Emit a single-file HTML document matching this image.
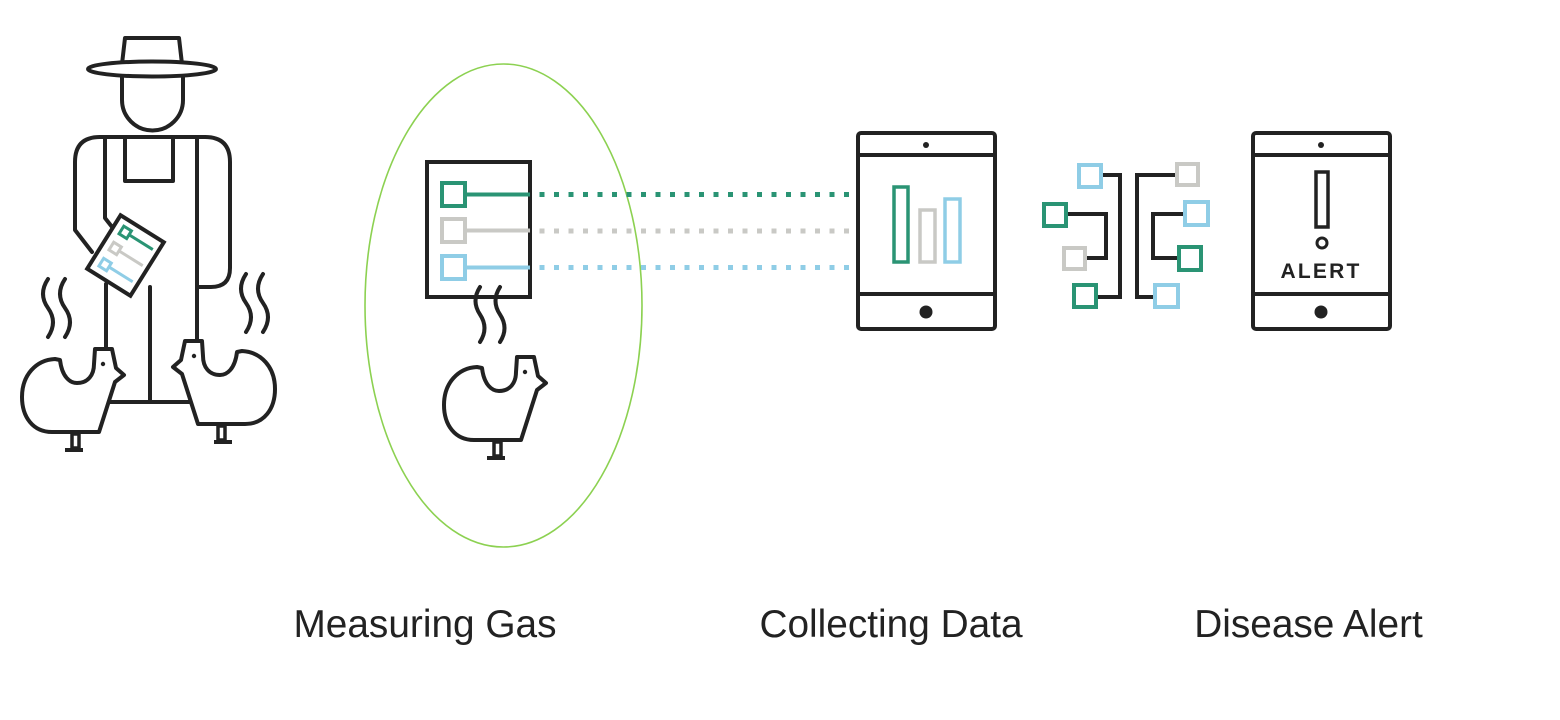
<!DOCTYPE html>
<html>
<head>
<meta charset="utf-8">
<style>
html,body{margin:0;padding:0;background:#fff;}
svg{display:block;}
</style>
</head>
<body>
<svg width="1560" height="720" viewBox="0 0 1560 720" xmlns="http://www.w3.org/2000/svg">
<rect width="1560" height="720" fill="#fff"/>
<defs>
  <g id="chick">
    <path d="M477 367 L482 368 C484 385 492 391 499 391 C510 391 516 383 516 372 L517 357 L534 357 L538 376 L546 383 L537 390 L521 440 L474 440 C455 440 444 425 444 405 C444 383 458 368 477 367 Z" fill="#fff" stroke="#222" stroke-width="4" stroke-linejoin="round"/>
    <circle cx="525" cy="372" r="2.2" fill="#222"/>
    <rect x="494" y="442" width="7" height="14" fill="#fff" stroke="#222" stroke-width="3.5"/>
    <line x1="487" y1="458" x2="505" y2="458" stroke="#222" stroke-width="4"/>
  </g>
</defs>

<!-- ===== Farmer ===== -->
<g fill="none" stroke="#222" stroke-width="4" stroke-linecap="round" stroke-linejoin="round">
  <!-- hat -->
  <path d="M122 64 L125 38 L179 38 L182 64" fill="#fff"/>
  <ellipse cx="152" cy="69" rx="64" ry="7.5" fill="#fff"/>
  <!-- face -->
  <path d="M122 77 L122 100 A30.5 30.5 0 0 0 183 100 L183 77"/>
  <!-- shoulders / arms -->
  <path d="M100 137 L205 137"/>
  <path d="M100 137 Q75 137 75 162 L75 230 L92 252"/>
  <path d="M205 137 Q230 137 230 162 L230 268 Q230 287 211 287 L197 287"/>
  <!-- bib -->
  <path d="M125 137 L125 181 L173 181 L173 137"/>
  <!-- left inner arm -->
  <path d="M105 137 L105 218 L116 232"/>
  <!-- legs -->
  <path d="M106 284 L106 402 L197 402 L197 137"/>
  <path d="M150 287 L150 402"/>
  <!-- smell waves left -->
  <path d="M48 279 q-10 15 0 29 t0 29"/>
  <path d="M65 279 q-10 15 0 29 t0 29"/>
  <!-- smell waves right -->
  <path d="M246 274 q-10 15 0 29 t0 29"/>
  <path d="M263 274 q-10 15 0 29 t0 29"/>
</g>
<!-- clipboard -->
<g transform="translate(125.5 255.5) rotate(32)">
  <rect x="-25.5" y="-31.5" width="51" height="63" fill="#fff" stroke="#222" stroke-width="4"/>
  <g stroke-width="3" fill="#fff">
    <rect x="-17" y="-24" width="9" height="9" stroke="#2a9474"/>
    <line x1="-8" y1="-19.5" x2="20" y2="-19.5" stroke="#2a9474"/>
    <rect x="-17" y="-5" width="9" height="9" stroke="#c9c9c5"/>
    <line x1="-8" y1="-0.5" x2="20" y2="-0.5" stroke="#c9c9c5"/>
    <rect x="-17" y="14" width="9" height="9" stroke="#8fcde6"/>
    <line x1="-8" y1="18.5" x2="20" y2="18.5" stroke="#8fcde6"/>
  </g>
</g>
<!-- farmer chickens -->
<use href="#chick" transform="translate(-422 -8)"/>
<use href="#chick" transform="translate(719 -16) scale(-1 1)"/>

<!-- ===== Measuring Gas ===== -->
<ellipse cx="503.5" cy="305.5" rx="138.5" ry="241.5" fill="none" stroke="#8cd151" stroke-width="1.6"/>
<rect x="427" y="162" width="103" height="135" fill="#fff" stroke="#222" stroke-width="4"/>
<g stroke-width="4" fill="#fff">
  <rect x="442" y="183" width="23" height="23" stroke="#2a9474"/>
  <line x1="465" y1="194.5" x2="530" y2="194.5" stroke="#2a9474"/>
  <rect x="442" y="219" width="23" height="23" stroke="#c9c9c5"/>
  <line x1="465" y1="230.5" x2="530" y2="230.5" stroke="#c9c9c5"/>
  <rect x="442" y="256" width="23" height="23" stroke="#8fcde6"/>
  <line x1="465" y1="267.5" x2="530" y2="267.5" stroke="#8fcde6"/>
</g>
<g fill="none" stroke="#222" stroke-width="4" stroke-linecap="round">
  <path d="M480 287 q-9 14 0 27.5 t0 27.5"/>
  <path d="M500 287 q-9 14 0 27.5 t0 27.5"/>
</g>
<use href="#chick"/>

<!-- dotted connectors -->
<g stroke-width="5" fill="none">
  <line x1="539.5" y1="194.5" x2="856" y2="194.5" stroke="#2a9474" stroke-dasharray="5 9.5"/>
  <line x1="539.5" y1="231" x2="856" y2="231" stroke="#c9c9c5" stroke-dasharray="5 9.5"/>
  <line x1="539.5" y1="267.5" x2="856" y2="267.5" stroke="#8fcde6" stroke-dasharray="5 9.5"/>
</g>

<!-- ===== Tablet 1 ===== -->
<g fill="none" stroke="#222" stroke-width="4">
  <rect x="858" y="133" width="137" height="196" rx="3" fill="#fff"/>
  <line x1="858" y1="155" x2="995" y2="155"/>
  <line x1="858" y1="294" x2="995" y2="294"/>
</g>
<circle cx="926" cy="145" r="3" fill="#222"/>
<circle cx="926" cy="312" r="6.5" fill="#222"/>
<g fill="none" stroke-width="3.5">
  <rect x="894" y="187" width="14" height="75" stroke="#2a9474"/>
  <rect x="920" y="210" width="15" height="52" stroke="#c9c9c5"/>
  <rect x="945" y="199" width="15" height="63" stroke="#8fcde6"/>
</g>

<!-- ===== Network icon ===== -->
<g fill="none" stroke="#222" stroke-width="4">
  <path d="M1103 175 L1120 175 L1120 297 L1098 297"/>
  <path d="M1068 214 L1106 214 L1106 258 L1087 258"/>
  <path d="M1175 175 L1137 175 L1137 297 L1153 297"/>
  <path d="M1183 214 L1153 214 L1153 258 L1177 258"/>
</g>
<g fill="#fff" stroke-width="4">
  <rect x="1079" y="165" width="22" height="22" stroke="#8fcde6"/>
  <rect x="1044" y="204" width="22" height="22" stroke="#2a9474"/>
  <rect x="1064" y="248" width="21" height="21" stroke="#c9c9c5"/>
  <rect x="1074" y="285" width="22" height="22" stroke="#2a9474"/>
  <rect x="1177" y="164" width="21" height="21" stroke="#c9c9c5"/>
  <rect x="1185" y="202" width="23" height="23" stroke="#8fcde6"/>
  <rect x="1179" y="247" width="22" height="23" stroke="#2a9474"/>
  <rect x="1155" y="285" width="23" height="22" stroke="#8fcde6"/>
</g>

<!-- ===== Tablet 2 (Alert) ===== -->
<g fill="none" stroke="#222" stroke-width="4">
  <rect x="1253" y="133" width="137" height="196" rx="3" fill="#fff"/>
  <line x1="1253" y1="155" x2="1390" y2="155"/>
  <line x1="1253" y1="294" x2="1390" y2="294"/>
</g>
<circle cx="1321" cy="145" r="3" fill="#222"/>
<circle cx="1321" cy="312" r="6.5" fill="#222"/>
<rect x="1316" y="172" width="12" height="55" fill="none" stroke="#222" stroke-width="3.5"/>
<circle cx="1322" cy="243" r="5" fill="none" stroke="#222" stroke-width="3"/>
<text x="1321" y="278" text-anchor="middle" font-family="Liberation Sans, sans-serif" font-weight="bold" font-size="21" letter-spacing="2.2" fill="#222">ALERT</text>

<!-- ===== Labels ===== -->
<g font-family="Liberation Sans, Arial, sans-serif" font-size="38.8" fill="#222" text-anchor="middle">
  <text x="425" y="637">Measuring Gas</text>
  <text x="891" y="637">Collecting Data</text>
  <text x="1308.5" y="637">Disease Alert</text>
</g>
</svg>
</body>
</html>
